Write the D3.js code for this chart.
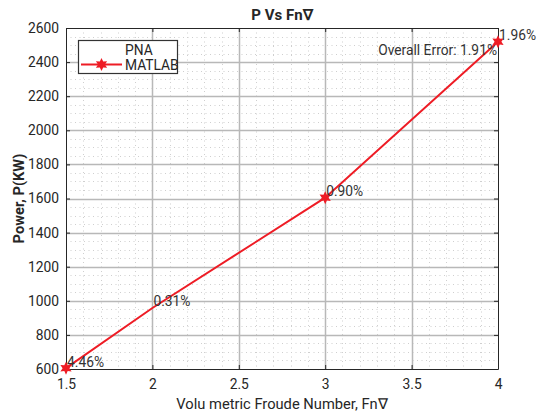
<!DOCTYPE html>
<html>
<head>
<meta charset="utf-8">
<script src="https://cdn.jsdelivr.net/npm/d3@7"></script>
<style>
  html, body { margin: 0; padding: 0; background: #ffffff; }
  svg { display: block; font-family: Roboto, "Liberation Sans", sans-serif; }
</style>
</head>
<body>
<svg id="chart" width="544" height="414"></svg>
<script>
// Volumetric Froude number vs. power
const froude = [1.5, 2, 3, 4];
const powerKW = [605, 958, 1605, 2520];
const markedPoints = [0, 2, 3];               // indices that carry a star marker
const errorLabels = ["4.46%", "0.31%", "0.90%", "1.96%"];
const overallError = "Overall Error:  1.91%";
const xTicks = [1.5, 2, 2.5, 3, 3.5, 4];
const yTicks = [600, 800, 1000, 1200, 1400, 1600, 1800, 2000, 2200, 2400, 2600];
const seriesNames = ["PNA", "MATLAB"];

const svg = d3.select("#chart");
const m = { left: 66, right: 498, top: 28, bottom: 369 };
const x = d3.scaleLinear().domain([1.5, 4]).range([m.left, m.right]);
const y = d3.scaleLinear().domain([600, 2600]).range([m.bottom, m.top]);
const ink = "#262626";
const red = "#ee1c25";
const fs = 13.8;

// plot background
svg.append("rect").attr("x", m.left).attr("y", m.top)
  .attr("width", m.right - m.left).attr("height", m.bottom - m.top).attr("fill", "#fff");

// minor grid (dotted)
const g = svg.append("g");
const xMinor = d3.range(1.6, 4, 0.1).filter(v => Math.abs(v * 2 - Math.round(v * 2)) > 1e-6);
const yMinor = d3.range(650, 2600, 50).filter(v => v % 200 !== 0);
g.selectAll(".xm").data(xMinor).join("line")
  .attr("x1", d => Math.round(x(d)) + 0.5).attr("x2", d => Math.round(x(d)) + 0.5)
  .attr("y1", m.top).attr("y2", m.bottom)
  .attr("stroke", "#cfcfcf").attr("stroke-dasharray", "1,3.5");
g.selectAll(".ym").data(yMinor).join("line")
  .attr("y1", d => Math.round(y(d)) + 0.5).attr("y2", d => Math.round(y(d)) + 0.5)
  .attr("x1", m.left).attr("x2", m.right)
  .attr("stroke", "#cfcfcf").attr("stroke-dasharray", "1,3.5");

// major grid
g.selectAll(".xg").data(xTicks.slice(1, -1)).join("line")
  .attr("x1", d => Math.round(x(d)) + 0.5).attr("x2", d => Math.round(x(d)) + 0.5)
  .attr("y1", m.top).attr("y2", m.bottom)
  .attr("stroke", "#b8b8b8").attr("stroke-width", 1.5);
g.selectAll(".yg").data(yTicks.slice(1, -1)).join("line")
  .attr("y1", d => Math.round(y(d)) + 0.5).attr("y2", d => Math.round(y(d)) + 0.5)
  .attr("x1", m.left).attr("x2", m.right)
  .attr("stroke", "#b8b8b8").attr("stroke-width", 1.5);

// axes (bottom/left with labels, top/right ticks only), ticks pointing inward
const tickLen = 4;
const fmtX = d => String(d);
const xAxisB = d3.axisBottom(x).tickValues(xTicks).tickFormat(fmtX).tickSizeInner(-tickLen).tickSizeOuter(0).tickPadding(10);
const xAxisT = d3.axisTop(x).tickValues(xTicks).tickFormat("").tickSizeInner(-tickLen).tickSizeOuter(0);
const yAxisL = d3.axisLeft(y).tickValues(yTicks).tickFormat(d3.format("d")).tickSizeInner(-tickLen).tickSizeOuter(0).tickPadding(7);
const yAxisR = d3.axisRight(y).tickValues(yTicks).tickFormat("").tickSizeInner(-tickLen).tickSizeOuter(0);

function style(sel) {
  sel.selectAll("path").attr("stroke", ink).attr("stroke-width", 1);
  sel.selectAll("line").attr("stroke", ink);
  sel.selectAll("text").attr("fill", ink).attr("font-size", fs)
    .attr("font-family", "Roboto, sans-serif");
}
svg.append("g").attr("transform", `translate(0,${m.bottom})`).call(xAxisB).call(style);
svg.append("g").attr("transform", `translate(0,${m.top})`).call(xAxisT).call(style);
svg.append("g").attr("transform", `translate(${m.left},0)`).call(yAxisL).call(style);
svg.append("g").attr("transform", `translate(${m.right},0)`).call(yAxisR).call(style);

// six-pointed star marker
function starPath(R, r) {
  const pts = [];
  for (let i = 0; i < 12; i++) {
    const a = -Math.PI / 2 + i * Math.PI / 6;
    const rad = i % 2 === 0 ? R : r;
    pts.push([rad * Math.cos(a), rad * Math.sin(a)]);
  }
  return "M" + pts.map(p => p.join(",")).join("L") + "Z";
}
const star = starPath(6.5, 3.4);

// series line
const pts = froude.map((f, i) => ({ f, p: powerKW[i], label: errorLabels[i] }));
svg.append("path").datum(pts)
  .attr("d", d3.line().x(d => x(d.f)).y(d => y(d.p)))
  .attr("fill", "none").attr("stroke", red).attr("stroke-width", 2);
svg.selectAll(".mk").data(markedPoints.map(i => pts[i])).join("path")
  .attr("d", star).attr("transform", d => `translate(${x(d.f)},${y(d.p)})`)
  .attr("fill", red);

// per-point error labels
svg.selectAll(".el").data(pts).join("text")
  .attr("x", d => x(d.f) + 1).attr("y", d => y(d.p) - 6.5)
  .attr("dominant-baseline", "central")
  .attr("font-size", fs).attr("fill", "#333").text(d => d.label);

// overall error note
svg.append("text").attr("x", m.right - 1).attr("y", 50)
  .attr("text-anchor", "end").attr("dominant-baseline", "central")
  .attr("font-size", fs).attr("fill", "#333").text(overallError);

// titles
svg.append("text").attr("x", (m.left + m.right) / 2).attr("y", 15)
  .attr("text-anchor", "middle").attr("dominant-baseline", "central")
  .attr("font-size", 15).attr("font-weight", "bold").attr("fill", ink).text("P Vs Fn∇");
svg.append("text").attr("x", (m.left + m.right) / 2).attr("y", 404)
  .attr("text-anchor", "middle").attr("dominant-baseline", "central")
  .attr("font-size", 14.7).attr("fill", ink).text("Volu metric Froude Number, Fn∇");
svg.append("text").attr("transform", `translate(19,${(m.top + m.bottom) / 2}) rotate(-90)`)
  .attr("text-anchor", "middle").attr("dominant-baseline", "central")
  .attr("font-size", 14.7).attr("font-weight", "bold").attr("fill", ink).text("Power, P(KW)");

// legend
const lg = svg.append("g");
lg.append("rect").attr("x", 78.5).attr("y", 40.5).attr("width", 99).attr("height", 33)
  .attr("fill", "#fff").attr("stroke", "#333").attr("stroke-width", 1.2);
lg.append("text").attr("x", 125).attr("y", 50).attr("dominant-baseline", "central")
  .attr("font-size", fs).attr("fill", ink).text(seriesNames[0]);
lg.append("line").attr("x1", 81).attr("x2", 122).attr("y1", 64.5).attr("y2", 64.5)
  .attr("stroke", red).attr("stroke-width", 2);
lg.append("path").attr("d", star).attr("transform", "translate(101.5,64.5)").attr("fill", red);
lg.append("text").attr("x", 125).attr("y", 64.5).attr("dominant-baseline", "central")
  .attr("font-size", fs).attr("fill", ink).text(seriesNames[1]);
</script>
</body>
</html>
